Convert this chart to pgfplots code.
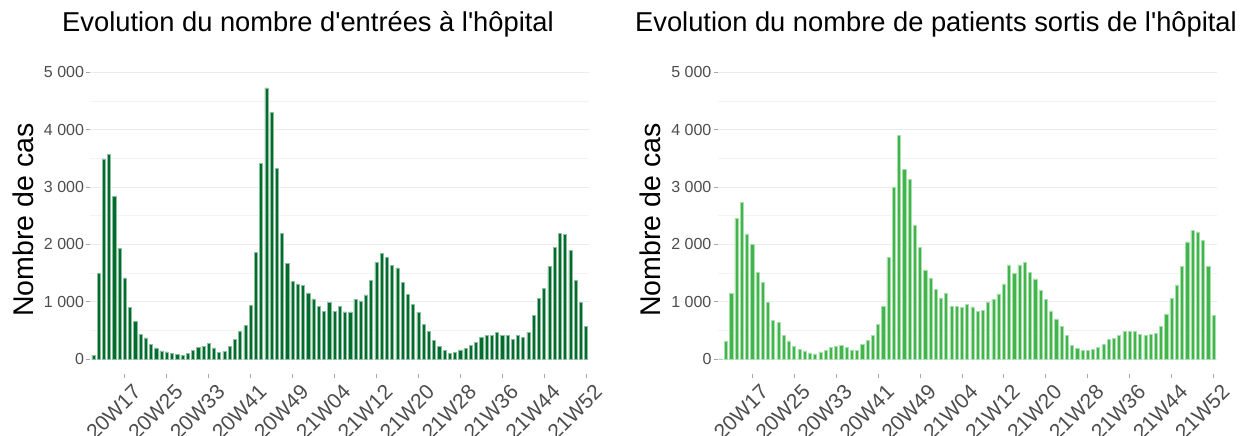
\documentclass[border=0pt]{standalone}
\usepackage{pgfplots}
\pgfplotsset{compat=1.18}
\usepackage{pgfplotstable}
\usepackage{fontspec}
\setmainfont{Liberation Sans}[Ligatures=TeXOff]
\definecolor{darkg}{HTML}{006D2C}
\definecolor{lightg}{HTML}{3FB54A}
\definecolor{tickc}{HTML}{4D4D4D}
\definecolor{gridmaj}{HTML}{EBEBEB}
\definecolor{gridmin}{HTML}{F3F3F3}

\pgfplotstableread{
idx adm dis
0 70 5
1 1497 306
2 3491 1150
3 3566 2457
4 2832 2728
5 1925 2185
6 1416 2000
7 908 1514
8 659 1341
9 439 988
10 370 676
11 254 642
12 197 410
13 145 318
14 127 220
15 104 168
16 81 145
17 69 110
18 104 92
19 150 127
20 208 156
21 225 202
22 272 225
23 197 243
24 116 202
25 139 162
26 225 156
27 347 254
28 480 329
29 584 422
30 936 607
31 1855 919
32 3410 1769
33 4728 3000
34 4295 3902
35 3329 3312
36 2191 3139
37 1665 2329
38 1358 1948
39 1312 1555
40 1289 1416
41 1156 1220
42 1052 1069
43 925 1145
44 838 925
45 988 919
46 832 902
47 925 960
48 827 913
49 827 832
50 1046 850
51 1017 1000
52 1121 1046
53 1376 1139
54 1688 1312
55 1844 1642
56 1775 1497
57 1630 1642
58 1590 1682
59 1341 1514
60 1127 1399
61 954 1197
62 821 1040
63 601 844
64 491 705
65 335 578
66 225 422
67 150 243
68 104 185
69 116 150
70 162 156
71 185 173
72 243 202
73 295 254
74 376 341
75 410 358
76 410 416
77 468 486
78 416 486
79 416 480
80 347 428
81 416 410
82 387 439
83 474 457
84 763 572
85 1064 792
86 1237 1058
87 1618 1295
88 1954 1613
89 2191 2046
90 2173 2243
91 1902 2220
92 1376 2064
93 988 1624
94 572 763
}\data

\pgfplotsset{panel/.style={
  scale only axis, width=499pt, height=315.8pt, anchor=south west,
  xmin=-0.6, xmax=94.6, ymin=-250, ymax=5250,
  axis line style={draw=none},
  xtick={6,14,22,30,38,46,54,62,70,78,86,94},
  xticklabels={20W17,20W25,20W33,20W41,20W49,21W04,21W12,21W20,21W28,21W36,21W44,21W52},
  ytick={0,1000,2000,3000,4000,5000},
  yticklabels={0,1 000,2 000,3 000,4 000,5 000},
  minor ytick={500,1500,2500,3500,4500},
  ymajorgrids, yminorgrids,
  major grid style={color=gridmaj, line width=0.9pt},
  minor grid style={color=gridmin, line width=0.7pt},
  tick pos=left, tick align=outside,
  major tick length=4pt, minor tick length=0pt,
  tick style={color=gray!70, line width=0.7pt},
  yticklabel style={font=\fontsize{16}{16}\selectfont, color=tickc, inner sep=2pt},
  xticklabel style={font=\fontsize{21}{21}\selectfont, color=tickc, xshift=7pt, yshift=-4pt, rotate=45, anchor=north east, inner sep=1pt},
}}

\begin{document}
\begin{tikzpicture}
\path[use as bounding box, fill=white] (0,0) rectangle (1240pt,436pt);

\begin{axis}[panel, at={(90.2pt,62.4pt)}]
\addplot[ybar, bar width=0.6, fill=darkg, draw=darkg!45!white, line width=0.5pt] table[x=idx, y=adm] {\data};
\end{axis}

\begin{axis}[panel, at={(717.6pt,62.4pt)}]
\addplot[ybar, bar width=0.6, fill=lightg, draw=lightg!45!white, line width=0.5pt] table[x=idx, y=dis] {\data};
\end{axis}

\node[anchor=base, font=\fontsize{27.3}{30}\selectfont] at (308pt,404.3pt) {Evolution du nombre d'entrées à l'hôpital};
\node[anchor=base, font=\fontsize{27.3}{30}\selectfont] at (936pt,404.3pt) {Evolution du nombre de patients sortis de l'hôpital};
\node[anchor=base, rotate=90, font=\fontsize{28.5}{30}\selectfont] at (33pt,216pt) {Nombre de cas};
\node[anchor=base, rotate=90, font=\fontsize{28.5}{30}\selectfont] at (660.4pt,216pt) {Nombre de cas};
\end{tikzpicture}
\end{document}
